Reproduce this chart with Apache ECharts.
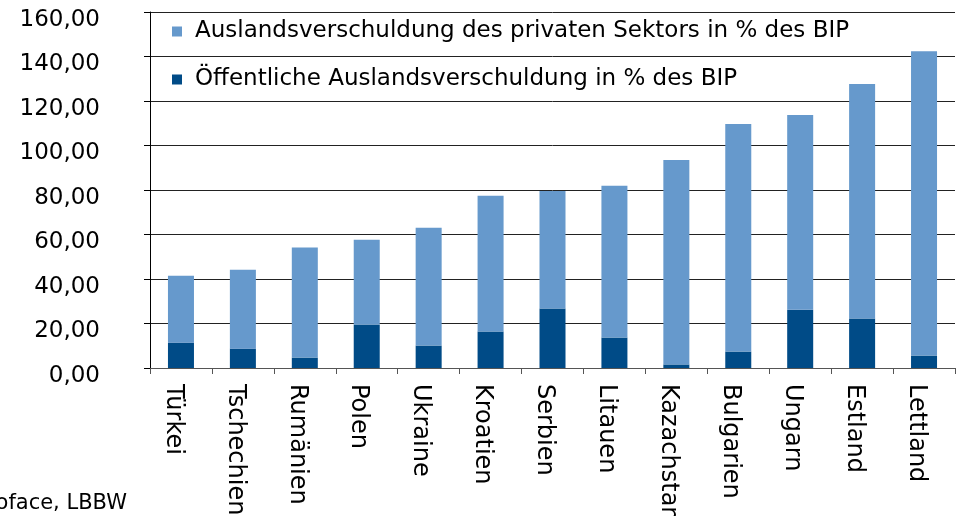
<!DOCTYPE html>
<html>
<head>
<meta charset="utf-8">
<script src="https://cdn.jsdelivr.net/npm/echarts@6/dist/echarts.min.js"></script>
<style>
  html, body { margin: 0; padding: 0; background: #fff; }
  #chart { width: 963px; height: 516px; }
</style>
</head>
<body>
<div id="chart"></div>
<script>
const countries = ['Türkei', 'Tschechien', 'Rumänien', 'Polen', 'Ukraine', 'Kroatien', 'Serbien',
  'Litauen', 'Kazachstan', 'Bulgarien', 'Ungarn', 'Estland', 'Lettland'];
// public external debt, % of GDP
const publicDebt = [11.4, 8.7, 4.7, 19.5, 10.1, 16.4, 26.7, 13.7, 1.6, 7.4, 26.2, 22.2, 5.6];
// private sector external debt, % of GDP
const privateDebt = [30.1, 35.5, 49.5, 38.1, 52.9, 61.0, 52.9, 68.2, 91.9, 102.3, 87.5, 105.4, 136.8];

const font = 'DejaVu Sans';
const chart = echarts.init(document.getElementById('chart'));

chart.setOption({
  animation: false,
  textStyle: { fontFamily: font, color: '#000' },
  grid: { left: 150, right: 8, top: 12, bottom: 148, outerBoundsMode: 'none', containLabel: false },
  legend: {
    orient: 'vertical',
    left: 167,
    top: 13,
    itemWidth: 10,
    itemHeight: 10,
    itemGap: 21,
    icon: 'rect',
    textStyle: { fontFamily: font, fontSize: 23, color: '#000', lineHeight: 27, padding: [0, 0, 0, 8] },
    data: ['Auslandsverschuldung des privaten Sektors in % des BIP', 'Öffentliche Auslandsverschuldung in % des BIP']
  },
  xAxis: {
    type: 'category',
    data: countries,
    axisLine: { lineStyle: { color: '#555', width: 1 } },
    axisTick: { show: true, length: 6, lineStyle: { color: '#555' } },
    axisLabel: {
      rotate: -90, fontSize: 24, color: '#000', margin: 16, interval: 0,
      verticalAlign: 'top', lineHeight: 16
    }
  },
  yAxis: {
    type: 'value',
    min: 0,
    max: 160,
    interval: 20,
    axisLine: { show: true, lineStyle: { color: '#000', width: 1 } },
    axisTick: { show: true, length: 6, lineStyle: { color: '#000' } },
    splitLine: { lineStyle: { color: '#222', width: 1 } },
    axisLabel: {
      fontSize: 23,
      color: '#000',
      margin: 50,
      verticalAlign: 'top',
      lineHeight: 16,
      formatter: v => v.toFixed(2).replace('.', ',')
    }
  },
  series: [
    {
      name: 'Öffentliche Auslandsverschuldung in % des BIP',
      type: 'bar',
      stack: 'debt',
      barWidth: '42%',
      itemStyle: { color: '#004b87' },
      data: publicDebt
    },
    {
      name: 'Auslandsverschuldung des privaten Sektors in % des BIP',
      type: 'bar',
      stack: 'debt',
      barWidth: '42%',
      itemStyle: { color: '#6699cc' },
      data: privateDebt
    }
  ],
  graphic: [{
    type: 'text',
    right: 963 - 127,
    top: 493,
    style: { text: 'Quelle: Coface, LBBW', fontFamily: font, fontSize: 21, fill: '#000' }
  }]
});
</script>
</body>
</html>
